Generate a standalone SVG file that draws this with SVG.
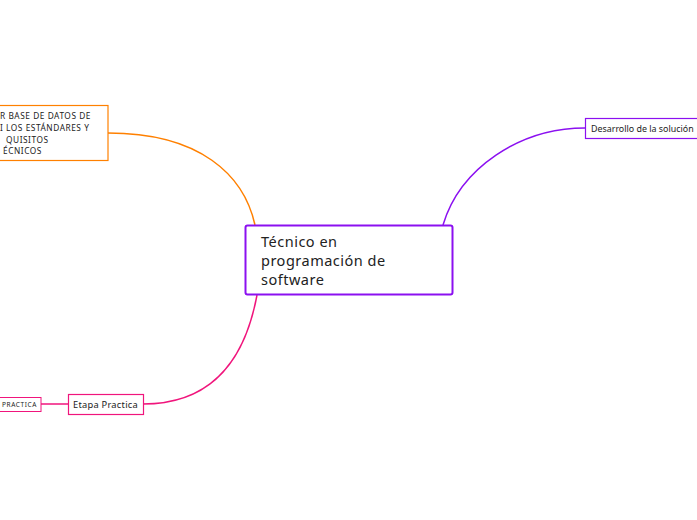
<svg xmlns="http://www.w3.org/2000/svg" width="697" height="520" viewBox="0 0 697 520">
<style>
.t{font-family:"Noto Sans",Lato,sans-serif;fill:#222;}
.c{fill:none;stroke-width:1.5;}
</style>
<rect width="697" height="520" fill="#fff"/>
<g id="connectors">
<path class="c" stroke="#ff8000" d="M108,133 C200,133 244,175 255,225"/>
<path class="c" stroke="#8b10f0" d="M443,225 C460,168 520,128 585,128"/>
<path class="c" stroke="#f0157c" d="M257,295 C245,360 212,404 143,404"/>
<path class="c" stroke="#f0157c" d="M41,404 L68,404"/>
</g>
<g id="central">
<rect x="245.5" y="225.5" width="207" height="69" rx="2" fill="#fff" stroke="#8b10f0" stroke-width="2"/>
<text class="t" font-size="14.5" letter-spacing="0.5"><tspan x="261" y="247">Técnico en</tspan><tspan x="261" y="266">programación de</tspan><tspan x="261" y="285">software</tspan></text>
</g>
<g id="database">
<rect x="-10" y="105.5" width="118" height="55" fill="#fff" stroke="#ff8000" stroke-width="1.2"/>
<text class="t" font-size="8.3" letter-spacing="0.55"><tspan x="0" y="119">R BASE DE DATOS DE</tspan><tspan x="0" y="131">I LOS ESTÁNDARES Y</tspan><tspan x="6" y="143">QUISITOS</tspan><tspan x="3" y="154">ÉCNICOS</tspan></text>
</g>
<g id="desarrollo">
<rect x="585.5" y="118.5" width="120" height="20" fill="#fff" stroke="#8b10f0" stroke-width="1.2"/>
<text class="t" font-size="8.9" x="591" y="131.5">Desarrollo de la solución</text>
</g>
<g id="etapa">
<rect x="68.5" y="394.5" width="75" height="20" fill="#fff" stroke="#f0157c" stroke-width="1.2"/>
<text class="t" font-size="9.3" letter-spacing="0.25" x="73" y="407.5">Etapa Practica</text>
</g>
<g id="practica">
<rect x="-5" y="397.5" width="46" height="14" fill="#fff" stroke="#f0157c" stroke-width="1"/>
<text class="t" font-size="6.5" letter-spacing="0.6" x="2" y="406.5">PRACTICA</text>
</g>
</svg>
